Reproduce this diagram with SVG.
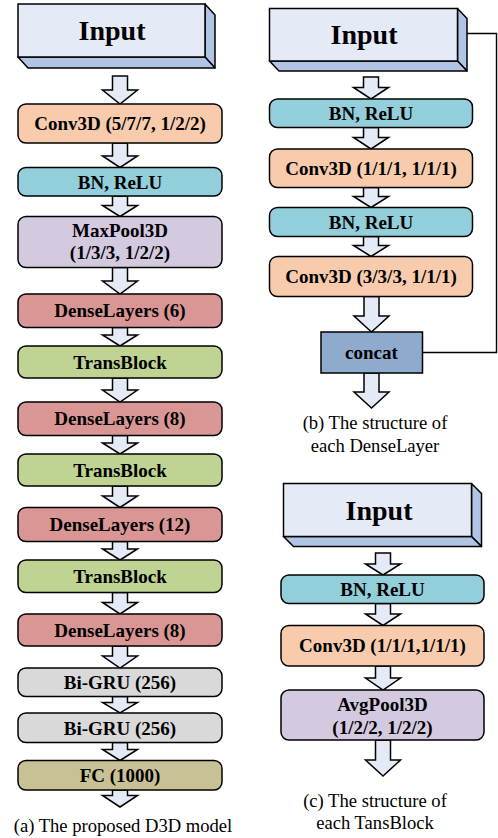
<svg xmlns="http://www.w3.org/2000/svg" width="498" height="838" viewBox="0 0 498 838">
<style>
.bx{stroke:#000;stroke-width:1.5}
.face{fill:#E4EBF6;stroke:#000;stroke-width:1.5}
.side{fill:#B0C4E4;stroke:#000;stroke-width:1.5;stroke-linejoin:round}
.arr{fill:#E4EBF6;stroke:#000;stroke-width:1.5;stroke-linejoin:miter}
.conv{fill:#F8CBAD}.bn{fill:#93CEDB}.pool{fill:#D3CAE0}.dense{fill:#DA9694}.trans{fill:#BFD393}.gru{fill:#D9D9D9}.fc{fill:#C7C195}.cat{fill:#8EAACC}
text{font-family:"Liberation Serif","Times New Roman",serif;fill:#000}
.t{font-size:19px;font-weight:bold;text-anchor:middle}
.big{font-size:28px;font-weight:bold;text-anchor:middle}
.cap{font-size:18.6px;text-anchor:middle}
.ln{fill:none;stroke:#000;stroke-width:1.4}
</style>

<g id="connectors">
  <polyline class="ln" points="457.5,33.5 496.5,33.5 496.5,352.5 422.5,352.5"/>
  <!-- (a) arrows -->
  <polygon class="arr" points="112.5,76 127.5,76 127.5,90 137.5,90 120,104 102.5,90 112.5,90"/>
  <polygon class="arr" points="112.5,143 127.5,143 127.5,156 137.5,156 120,167.5 102.5,156 112.5,156"/>
  <polygon class="arr" points="112.5,196 127.5,196 127.5,205.5 137.5,205.5 120,216.5 102.5,205.5 112.5,205.5"/>
  <polygon class="arr" points="112.5,267.5 127.5,267.5 127.5,281 137.5,281 120,294 102.5,281 112.5,281"/>
  <polygon class="arr" points="112.5,327.5 127.5,327.5 127.5,335 137.5,335 120,346 102.5,335 112.5,335"/>
  <polygon class="arr" points="112.5,378 127.5,378 127.5,390 137.5,390 120,402 102.5,390 112.5,390"/>
  <polygon class="arr" points="112.5,435.5 127.5,435.5 127.5,443 137.5,443 120,454 102.5,443 112.5,443"/>
  <polygon class="arr" points="112.5,486 127.5,486 127.5,496 137.5,496 120,507.5 102.5,496 112.5,496"/>
  <polygon class="arr" points="112.5,541.5 127.5,541.5 127.5,549 137.5,549 120,560 102.5,549 112.5,549"/>
  <polygon class="arr" points="112.5,592.5 127.5,592.5 127.5,602.5 137.5,602.5 120,614 102.5,602.5 112.5,602.5"/>
  <polygon class="arr" points="112.5,646 127.5,646 127.5,656 137.5,656 120,668 102.5,656 112.5,656"/>
  <polygon class="arr" points="112.5,696.5 127.5,696.5 127.5,702.5 137.5,702.5 120,713 102.5,702.5 112.5,702.5"/>
  <polygon class="arr" points="112.5,742.5 127.5,742.5 127.5,749.5 137.5,749.5 120,760.5 102.5,749.5 112.5,749.5"/>
  <polygon class="arr" points="112.5,790 127.5,790 127.5,795.5 137.5,795.5 120,807 102.5,795.5 112.5,795.5"/>
  <!-- (b) arrows -->
  <polygon class="arr" points="363.5,77 378.5,77 378.5,87.5 388.5,87.5 371,99 353.5,87.5 363.5,87.5"/>
  <polygon class="arr" points="363.5,127.5 378.5,127.5 378.5,137.5 388.5,137.5 371,149 353.5,137.5 363.5,137.5"/>
  <polygon class="arr" points="363.5,187.5 378.5,187.5 378.5,196.5 388.5,196.5 371,207.5 353.5,196.5 363.5,196.5"/>
  <polygon class="arr" points="363.5,236.5 378.5,236.5 378.5,245.5 388.5,245.5 371,256.5 353.5,245.5 363.5,245.5"/>
  <polygon class="arr" points="364,296.5 379,296.5 379,316 389,316 371.5,332 354,316 364,316"/>
  <polygon class="arr" points="364,373 379,373 379,392 389,392 371.5,408 354,392 364,392"/>
  <!-- (c) arrows -->
  <polygon class="arr" points="375.5,553 390.5,553 390.5,564 400.5,564 383,575 365.5,564 375.5,564"/>
  <polygon class="arr" points="375.5,603.5 390.5,603.5 390.5,614 400.5,614 383,625.5 365.5,614 375.5,614"/>
  <polygon class="arr" points="375.5,666 390.5,666 390.5,678 400.5,678 383,690 365.5,678 375.5,678"/>
  <polygon class="arr" points="375.5,740 390.5,740 390.5,760 400.5,760 383,776 365.5,760 375.5,760"/>
</g>

<!-- (a) column -->
<g id="a-input">
  <polygon class="side" points="205,4 215,15 215,68 205,57"/>
  <polygon class="side" points="18,57 205,57 215,68 28,68"/>
  <rect class="face" x="18" y="4" width="187" height="53"/>
  <text class="big" x="112" y="40">Input</text>
</g>
<g id="a-conv"><rect class="bx conv" x="18" y="104" width="204" height="39" rx="8"/><text class="t" x="120" y="130">Conv3D (5/7/7, 1/2/2)</text></g>
<g id="a-bn"><rect class="bx bn" x="18" y="167.5" width="204" height="28.5" rx="8"/><text class="t" x="120" y="188.5">BN, ReLU</text></g>
<g id="a-maxpool"><rect class="bx pool" x="18" y="216.5" width="204" height="51" rx="8"/><text class="t" x="120" y="237">MaxPool3D</text><text class="t" x="120" y="259">(1/3/3, 1/2/2)</text></g>
<g id="a-dense1"><rect class="bx dense" x="18" y="294" width="204" height="33.5" rx="8"/><text class="t" x="120" y="317">DenseLayers (6)</text></g>
<g id="a-trans1"><rect class="bx trans" x="18" y="346" width="204" height="32" rx="8"/><text class="t" x="120" y="368.5">TransBlock</text></g>
<g id="a-dense2"><rect class="bx dense" x="18" y="402" width="204" height="33.5" rx="8"/><text class="t" x="120" y="425">DenseLayers (8)</text></g>
<g id="a-trans2"><rect class="bx trans" x="18" y="454" width="204" height="32" rx="8"/><text class="t" x="120" y="476.5">TransBlock</text></g>
<g id="a-dense3"><rect class="bx dense" x="18" y="507.5" width="204" height="34" rx="8"/><text class="t" x="120" y="531">DenseLayers (12)</text></g>
<g id="a-trans3"><rect class="bx trans" x="18" y="560" width="204" height="32.5" rx="8"/><text class="t" x="120" y="582.5">TransBlock</text></g>
<g id="a-dense4"><rect class="bx dense" x="18" y="614" width="204" height="32" rx="8"/><text class="t" x="120" y="636.5">DenseLayers (8)</text></g>
<g id="a-gru1"><rect class="bx gru" x="18" y="668" width="204" height="28.5" rx="8"/><text class="t" x="120" y="689">Bi-GRU (256)</text></g>
<g id="a-gru2"><rect class="bx gru" x="18" y="713" width="204" height="29.5" rx="8"/><text class="t" x="120" y="734.5">Bi-GRU (256)</text></g>
<g id="a-fc"><rect class="bx fc" x="18" y="760.5" width="204" height="29.5" rx="8"/><text class="t" x="120" y="782">FC (1000)</text></g>
<text class="cap" x="123" y="832">(a) The proposed D3D model</text>

<!-- (b) column -->
<g id="b-input">
  <polygon class="side" points="457.5,8.5 467,18.5 467,71 457.5,61"/>
  <polygon class="side" points="269.5,61 457.5,61 467,71 279,71"/>
  <rect class="face" x="269.5" y="8.5" width="188" height="52.5"/>
  <text class="big" x="364" y="44">Input</text>
</g>
<g id="b-bn1"><rect class="bx bn" x="269.5" y="99" width="203" height="28.5" rx="8"/><text class="t" x="371" y="120">BN, ReLU</text></g>
<g id="b-conv1"><rect class="bx conv" x="269.5" y="149" width="203" height="38.5" rx="8"/><text class="t" x="371" y="175">Conv3D (1/1/1, 1/1/1)</text></g>
<g id="b-bn2"><rect class="bx bn" x="269.5" y="207.5" width="203" height="29" rx="8"/><text class="t" x="371" y="228.5">BN, ReLU</text></g>
<g id="b-conv2"><rect class="bx conv" x="269.5" y="256.5" width="203" height="40" rx="8"/><text class="t" x="371" y="283">Conv3D (3/3/3, 1/1/1)</text></g>
<g id="b-concat"><rect class="bx cat" x="321" y="332" width="101.5" height="41"/><text class="t" x="371.5" y="359">concat</text></g>
<text class="cap" x="375" y="429">(b) The structure of</text>
<text class="cap" x="375" y="452">each DenseLayer</text>

<!-- (c) column -->
<g id="c-input">
  <polygon class="side" points="471.5,483.5 481.5,493.5 481.5,546.5 471.5,536.5"/>
  <polygon class="side" points="283.5,536.5 471.5,536.5 481.5,546.5 293.5,546.5"/>
  <rect class="face" x="283.5" y="483.5" width="188" height="53"/>
  <text class="big" x="379" y="520">Input</text>
</g>
<g id="c-bn"><rect class="bx bn" x="281" y="575" width="203" height="28.5" rx="8"/><text class="t" x="382.5" y="596">BN, ReLU</text></g>
<g id="c-conv"><rect class="bx conv" x="281" y="625.5" width="203" height="40.5" rx="8"/><text class="t" x="382.5" y="652">Conv3D (1/1/1,1/1/1)</text></g>
<g id="c-avgpool"><rect class="bx pool" x="281" y="690" width="203" height="50" rx="8"/><text class="t" x="382.5" y="711">AvgPool3D</text><text class="t" x="382.5" y="734">(1/2/2, 1/2/2)</text></g>
<text class="cap" x="375" y="807">(c) The structure of</text>
<text class="cap" x="375" y="829">each TansBlock</text>
</svg>
